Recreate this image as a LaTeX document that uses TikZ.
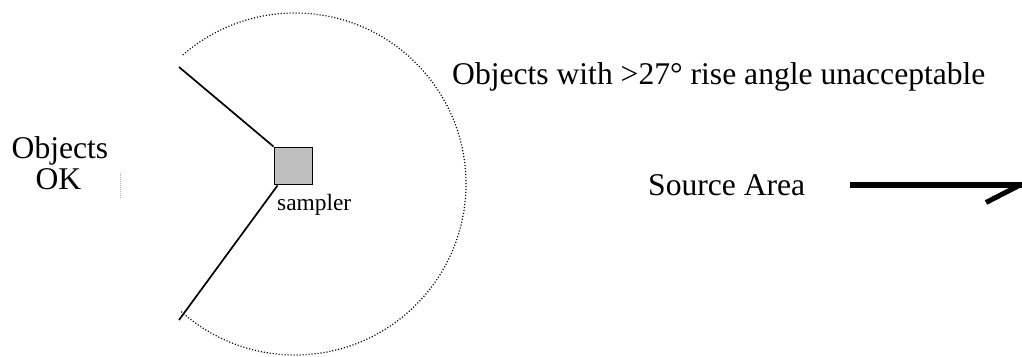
\documentclass[tikz,border=0pt]{standalone}
\usepackage{fontspec}
\setmainfont{Liberation Serif}
\begin{document}
\begin{tikzpicture}[x=1pt,y=-1pt,
  bigtext/.style={font=\fontsize{31.6}{36}\selectfont, inner sep=0pt},
  smalltext/.style={font=\fontsize{23.4}{27}\selectfont, inner sep=0pt},
  rangeline/.style={draw=black, line width=1.7pt},
  dotarc/.style={draw=black, line width=1.2pt, dash pattern=on 1.1pt off 1.9pt},
  sampbox/.style={draw=black, line width=1.8pt, fill=black!25, minimum width=38pt, minimum height=37pt, inner sep=0pt},
  srcline/.style={draw=black, line width=6pt}]
\useasboundingbox (0,0) rectangle (1022,356);
% circle of acceptance
\coordinate (cc) at (295,184);
\draw[dotarc] (cc) ++(-131:171) arc[start angle=-131, end angle=132, radius=171];
% sampler
\node[sampbox] (samp) at (293.5,166) {};
\node[smalltext, anchor=base west] (samplbl) at (277,210) {sampler};
% boundary lines
\coordinate (ut) at (179,67);
\coordinate (lb) at (179,320);
\draw[rangeline] (ut) -- (samp.north west);
\draw[rangeline] (lb) -- ([xshift=4pt]samp.south west);
% faint tick
\coordinate (tk1) at (120,173);
\coordinate (tk2) at (120,198);
\draw[draw=black!30, line width=0.6pt, dash pattern=on 0.8pt off 1.2pt] (tk1) -- (tk2);
% labels
\node[bigtext, anchor=base] (objA) at (60,158) {Objects};
\node[bigtext, anchor=base] (objB) at (58.5,189) {OK};
\node[bigtext, anchor=base west] (toplbl) at (452,84) {Objects with >27° rise angle unacceptable};
\node[bigtext, anchor=base west] (src) at (648,195) {Source Area};
% source arrow
\coordinate (s1) at (850,185.3);
\coordinate (s2) at (1024,185.3);
\coordinate (s3) at (1021,184.5);
\coordinate (s4) at (986,202.5);
\draw[srcline] (s1) -- (s2);
\draw[draw=black, line width=5pt] (s3) -- (s4);
\end{tikzpicture}
\end{document}
